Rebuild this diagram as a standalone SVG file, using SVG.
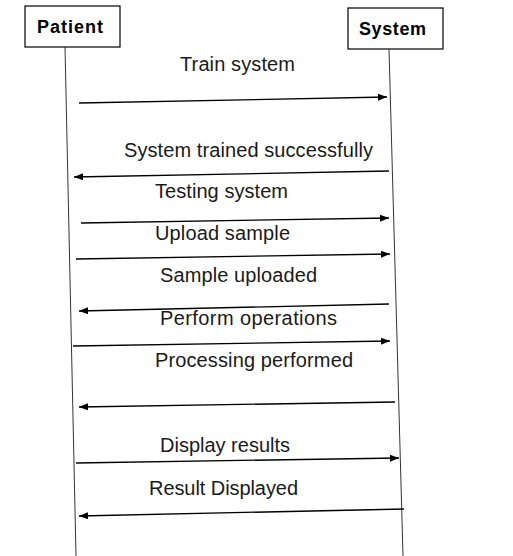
<svg xmlns="http://www.w3.org/2000/svg" width="513" height="556" viewBox="0 0 513 556">
  <style>
    .box { fill: #ffffff; stroke: #000000; stroke-width: 1.2; }
    .actor { font-family: "Liberation Sans", Arial, sans-serif; font-weight: bold; font-size: 18px; fill: #000000; }
    .life { stroke: #333333; stroke-width: 1; fill: none; }
    .msg { stroke: #000000; stroke-width: 1.3; fill: none; marker-end: url(#head); }
    .lbl { font-family: "Liberation Sans", Arial, sans-serif; font-size: 20px; fill: #1a1a1a; }
  </style>
  <defs>
    <marker id="head" markerUnits="userSpaceOnUse" markerWidth="10" markerHeight="8" refX="9" refY="3.5" orient="auto">
      <path d="M0,0 L9,3.5 L0,7 z" fill="#000000"/>
    </marker>
  </defs>

  <rect width="513" height="556" fill="#ffffff"/>

  <!-- participants -->
  <g id="patient">
    <rect class="box" x="25" y="6" width="95" height="41"/>
    <text class="actor" x="37" y="33" textLength="66">Patient</text>
  </g>
  <g id="system">
    <rect class="box" x="348" y="8" width="95" height="41"/>
    <text class="actor" x="359" y="35" textLength="67">System</text>
  </g>

  <!-- lifelines and messages -->
  <g id="connectors">
    <line class="life" x1="65" y1="47" x2="76" y2="556"/>
    <line class="life" x1="389" y1="49" x2="403" y2="556"/>

    <line class="msg" x1="79" y1="103" x2="387" y2="97"/>
    <line class="msg" x1="389" y1="171" x2="74" y2="177"/>
    <line class="msg" x1="81" y1="223" x2="389" y2="218"/>
    <line class="msg" x1="76" y1="259" x2="390" y2="254"/>
    <line class="msg" x1="389" y1="304" x2="79" y2="311"/>
    <line class="msg" x1="73" y1="346" x2="390" y2="341"/>
    <line class="msg" x1="395" y1="402" x2="79" y2="407"/>
    <line class="msg" x1="76" y1="463" x2="399" y2="458"/>
    <line class="msg" x1="404" y1="509" x2="79" y2="516"/>
  </g>

  <!-- message labels -->
  <g id="labels">
    <text class="lbl" x="180" y="71" textLength="115">Train system</text>
    <text class="lbl" x="124" y="157" textLength="249">System trained successfully</text>
    <text class="lbl" x="155" y="198" textLength="133">Testing system</text>
    <text class="lbl" x="155" y="240" textLength="135">Upload sample</text>
    <text class="lbl" x="160" y="282" textLength="157">Sample uploaded</text>
    <text class="lbl" x="160" y="325" textLength="177">Perform operations</text>
    <text class="lbl" x="155" y="367" textLength="198">Processing performed</text>
    <text class="lbl" x="160" y="452" textLength="130">Display results</text>
    <text class="lbl" x="149" y="495" textLength="149">Result Displayed</text>
  </g>
</svg>
